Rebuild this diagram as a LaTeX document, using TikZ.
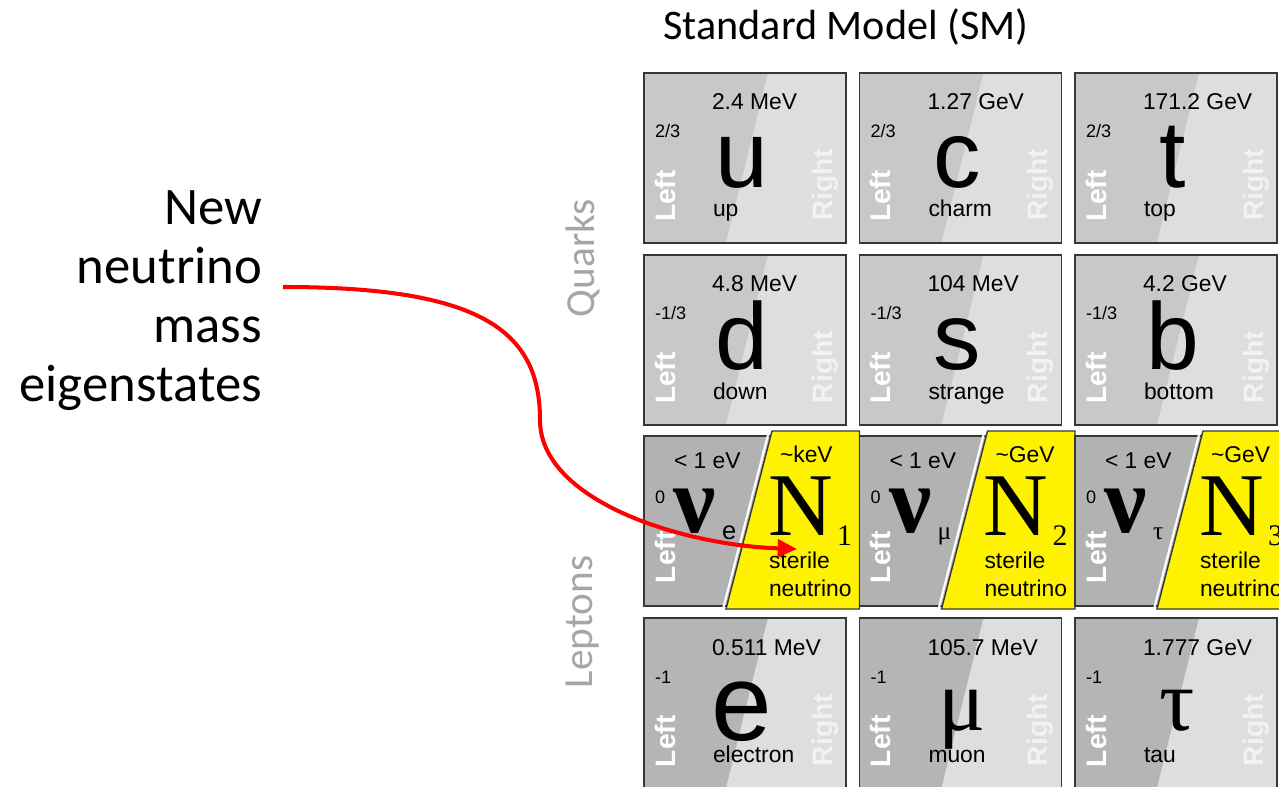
\documentclass[tikz,border=0pt]{standalone}
\usepackage{fontspec}
\setmainfont{Liberation Sans}
\newfontfamily\calib{Carlito}
\newfontfamily\tms{Liberation Serif}
\usetikzlibrary{arrows.meta}
\definecolor{qleft}{RGB}{200,200,200}
\definecolor{lleft}{RGB}{181,181,181}
\definecolor{rside}{RGB}{222,222,222}
\definecolor{nugray}{RGB}{178,178,178}
\definecolor{edge}{RGB}{55,55,55}
\definecolor{grpgray}{RGB}{166,166,166}
\definecolor{rightw}{RGB}{242,242,242}

\begin{document}
\begin{tikzpicture}[x=0.02cm, y=-0.02cm,
  every node/.style={inner sep=0pt, outer sep=0pt},
  box/.style={draw=edge, line width=0.8pt},
  steril/.style={draw=edge, line width=0.8pt, fill=yellow},
  mass/.style={font=\fontsize{13}{15}\selectfont, anchor=base west},
  chg/.style={font=\fontsize{10.3}{12}\selectfont, anchor=base west},
  pname/.style={font=\fontsize{13}{16}\selectfont, anchor=north west, align=left},
  chir/.style={font=\bfseries\fontsize{16}{18}\selectfont, rotate=90, anchor=base west},
  bigQ/.style={font=\fontsize{54}{60}\selectfont, anchor=base},
  bigE/.style={font=\fontsize{62}{66}\selectfont, anchor=base, yshift=-0.14cm},
  bigG/.style={font=\tms\fontsize{50}{55}\selectfont, anchor=base, xshift=0.09cm, yshift=0.06cm},
  grp/.style={font=\calib\fontsize{23.5}{28}\selectfont, text=grpgray, rotate=90},
  mix/.style={draw=red, line width=2.3pt, -{Triangle[length=11pt,width=10pt]}}
]
\useasboundingbox[fill=white] (0,0) rectangle (1279,787);

% Titel und Gruppen
\node[font=\calib\fontsize{24}{28}\selectfont, anchor=base] (sm) at (846,40) {Standard Model (SM)};
\node[grp] (quarks) at (583,258) {Quarks};
\node[grp] (leptons) at (583,622) {Leptons};

% Quarks und geladene Leptonen
\foreach \x/\y/\lc/\m/\q/\st/\s/\n [count=\c] in {
    644/73/qleft/2.4 MeV/{2/3}/bigQ/u/up,
    859.5/73/qleft/1.27 GeV/{2/3}/bigQ/c/charm,
    1075/73/qleft/171.2 GeV/{2/3}/bigQ/t/top,
    644/255/qleft/4.8 MeV/{-1/3}/bigQ/d/down,
    859.5/255/qleft/104 MeV/{-1/3}/bigQ/s/strange,
    1075/255/qleft/4.2 GeV/{-1/3}/bigQ/b/bottom,
    644/618/lleft/0.511 MeV/-1/bigE/e/electron,
    859.5/618/lleft/105.7 MeV/-1/bigG/μ/muon,
    1075/618/lleft/1.777 GeV/-1/bigG/τ/tau} {
  \fill[\lc] (\x,\y) rectangle (\x+202,\y+170);
  \fill[rside] (\x+124,\y) -- (\x+202,\y) -- (\x+202,\y+170) -- (\x+82,\y+170) -- cycle;
  \draw[box] (\x,\y) rectangle (\x+202,\y+170);
  \node[mass] (m\c) at (\x+68,\y+37) {\m};
  \node[chg] (q\c) at (\x+11,\y+65) {\q};
  \node[\st] (s\c) at (\x+98,\y+115) {\s};
  \node[mass] (n\c) at (\x+69,\y+144) {\n};
  \node[chir, text=white] (l\c) at (\x+31,\y+149) {Left};
  \node[chir, text=rightw] (r\c) at (\x+188,\y+148) {Right};
}

% Neutrinos mit sterilen Partnern
\foreach \x/\lsub/\mN/\nn [count=\c] in {644/e/keV/1, 859.5/{\tms μ}/GeV/2, 1075/{\tms τ}/GeV/3} {
  \fill[nugray] (\x,436) rectangle (\x+202,606);
  \draw[box] (\x,436) rectangle (\x+202,606);
  \node[mass] (nm\c) at (\x+30,468) {< 1 eV};
  \node[chg] (nq\c) at (\x+11,503) {0};
  \node[font=\tms\bfseries\fontsize{54}{60}\selectfont, anchor=base] (nu\c) at (\x+51,532) {ν};
  \node[font=\fontsize{14.5}{16}\selectfont, anchor=base west] (nus\c) at (\x+78,540) {\lsub};
  \node[chir, text=white] (nl\c) at (\x+31,583) {Left};
  \draw[white, line width=1.2pt] (\x+125,431) -- (\x+79,609);
  \draw[steril] (\x+128,431) -- (\x+215.5,431) -- (\x+215.5,609) -- (\x+82,609) -- cycle;
  \node[mass] (Nm\c) at (\x+136,462) {\textasciitilde\mN};
  \node[font=\tms\fontsize{51}{55}\selectfont, anchor=base west] (N\c) at (\x+124,535) {N};
  \node[font=\tms\fontsize{17}{19}\selectfont, anchor=base west] (Nn\c) at (\x+193,545) {\nn};
  \node[pname] (st\c) at (\x+125,551.5) {sterile\\neutrino};
}

% Hinweis auf neue Masseneigenzustaende
\node[font=\calib\fontsize{30}{33.6}\selectfont, align=right, anchor=north east] (newnu) at (262,191)
  {New\\neutrino\\mass\\eigenstates};
\coordinate (mixstart) at (283,287);
\coordinate (n1tip) at (797,549);
\draw[mix] (mixstart) .. controls (480,287) and (540,330) .. (540,420)
  .. controls (540,500) and (680,545) .. (n1tip);
\end{tikzpicture}
\end{document}
